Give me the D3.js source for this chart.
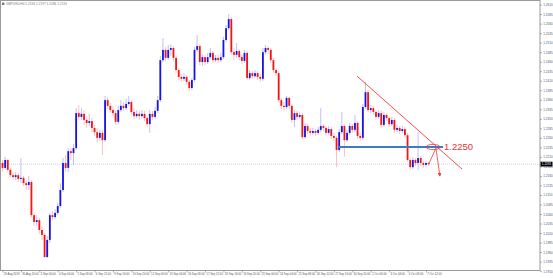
<!DOCTYPE html>
<html>
<head>
<meta charset="utf-8">
<script src="https://cdn.jsdelivr.net/npm/d3@7"></script>
<style>
  html, body { margin: 0; padding: 0; background: #fff; }
  svg { display: block; font-family: "Liberation Sans", Arial, sans-serif; }
</style>
</head>
<body>
<svg width="553" height="278"></svg>
<script>
// GBPUSD H4 candles (open = previous close)
const firstOpen = 1.2194;
const closes = [
  1.2181,1.2202,1.2176,1.2162,1.2157,1.2162,1.2152,1.2155,1.2141,1.2136,
  1.2144,1.2057,1.2039,1.2044,1.2018,1.2005,1.1947,1.1992,1.2057,1.2052,
  1.2063,1.2081,1.2123,1.2194,1.2181,1.2225,1.2220,1.2233,1.2325,1.2315,
  1.2323,1.2307,1.2299,1.2304,1.2286,1.2275,1.2260,1.2273,1.2254,1.2359,
  1.2344,1.2333,1.2325,1.2302,1.2333,1.2344,1.2338,1.2349,1.2354,1.2328,
  1.2317,1.2323,1.2317,1.2323,1.2312,1.2296,1.2323,1.2315,1.2331,1.2359,
  1.2464,1.2491,1.2470,1.2491,1.2496,1.2470,1.2438,1.2420,1.2415,1.2420,
  1.2407,1.2391,1.2412,1.2491,1.2501,1.2459,1.2472,1.2459,1.2472,1.2483,
  1.2464,1.2470,1.2464,1.2472,1.2517,1.2548,1.2572,1.2485,1.2478,1.2488,
  1.2472,1.2462,1.2483,1.2417,1.2430,1.2422,1.2430,1.2420,1.2415,1.2485,
  1.2496,1.2491,1.2464,1.2438,1.2430,1.2359,1.2344,1.2341,1.2365,1.2344,
  1.2307,1.2325,1.2315,1.2320,1.2262,1.2291,1.2278,1.2273,1.2278,1.2273,
  1.2281,1.2291,1.2286,1.2273,1.2283,1.2265,1.2260,1.2228,1.2275,1.2291,
  1.2254,1.2273,1.2291,1.2281,1.2299,1.2265,1.2260,1.2341,1.2380,1.2333,
  1.2338,1.2328,1.2315,1.2325,1.2294,1.2320,1.2312,1.2296,1.2307,1.2281,
  1.2286,1.2278,1.2283,1.2267,1.2202,1.2183,1.2202,1.2194,1.2207,1.2194,
  1.2189,1.2194,1.2191
];
const highs = [
  1.2202,1.2210,1.2204,1.2181,1.2170,1.2170,1.2168,1.2207,1.2160,1.2149,
  1.2160,1.2149,1.2063,1.2057,1.2050,1.2029,1.2010,1.2002,1.2063,1.2068,
  1.2073,1.2089,1.2141,1.2207,1.2215,1.2233,1.2233,1.2244,1.2338,1.2346,
  1.2338,1.2333,1.2317,1.2323,1.2312,1.2294,1.2286,1.2281,1.2281,1.2370,
  1.2367,1.2352,1.2344,1.2333,1.2344,1.2359,1.2354,1.2362,1.2370,1.2359,
  1.2338,1.2333,1.2331,1.2333,1.2331,1.2317,1.2333,1.2331,1.2341,1.2370,
  1.2475,1.2522,1.2499,1.2504,1.2506,1.2501,1.2475,1.2443,1.2428,1.2430,
  1.2425,1.2412,1.2417,1.2499,1.2530,1.2506,1.2480,1.2478,1.2483,1.2496,
  1.2488,1.2478,1.2478,1.2483,1.2525,1.2556,1.2585,1.2577,1.2496,1.2509,
  1.2493,1.2480,1.2491,1.2488,1.2438,1.2436,1.2438,1.2436,1.2428,1.2496,
  1.2504,1.2501,1.2496,1.2470,1.2443,1.2436,1.2365,1.2354,1.2370,1.2367,
  1.2349,1.2333,1.2331,1.2328,1.2325,1.2299,1.2296,1.2286,1.2286,1.2283,
  1.2288,1.2338,1.2296,1.2291,1.2291,1.2288,1.2273,1.2265,1.2283,1.2328,
  1.2296,1.2281,1.2299,1.2296,1.2320,1.2304,1.2273,1.2349,1.2407,1.2386,
  1.2346,1.2344,1.2333,1.2333,1.2331,1.2328,1.2325,1.2317,1.2315,1.2312,
  1.2294,1.2291,1.2291,1.2288,1.2273,1.2207,1.2210,1.2207,1.2275,1.2212,
  1.2199,1.2199,1.2197
];
const lows = [
  1.2170,1.2176,1.2170,1.2155,1.2149,1.2149,1.2144,1.2141,1.2134,1.2123,
  1.2123,1.2052,1.2029,1.2029,1.2008,1.1992,1.1945,1.1945,1.1984,1.2044,
  1.2047,1.2057,1.2076,1.2118,1.2170,1.2170,1.2202,1.2189,1.2228,1.2307,
  1.2307,1.2294,1.2286,1.2291,1.2275,1.2265,1.2249,1.2252,1.2215,1.2249,
  1.2336,1.2325,1.2317,1.2294,1.2296,1.2328,1.2331,1.2333,1.2344,1.2320,
  1.2310,1.2312,1.2307,1.2312,1.2304,1.2288,1.2273,1.2307,1.2310,1.2325,
  1.2354,1.2459,1.2462,1.2464,1.2475,1.2462,1.2430,1.2412,1.2407,1.2409,
  1.2399,1.2383,1.2386,1.2407,1.2485,1.2451,1.2449,1.2451,1.2454,1.2467,
  1.2457,1.2459,1.2457,1.2459,1.2467,1.2512,1.2543,1.2478,1.2464,1.2470,
  1.2464,1.2454,1.2457,1.2412,1.2412,1.2415,1.2417,1.2412,1.2407,1.2409,
  1.2478,1.2480,1.2457,1.2430,1.2422,1.2352,1.2336,1.2331,1.2336,1.2336,
  1.2299,1.2288,1.2307,1.2310,1.2257,1.2257,1.2270,1.2265,1.2267,1.2265,
  1.2267,1.2275,1.2278,1.2265,1.2267,1.2257,1.2252,1.2183,1.2223,1.2270,
  1.2210,1.2249,1.2267,1.2273,1.2275,1.2257,1.2252,1.2254,1.2336,1.2328,
  1.2325,1.2320,1.2307,1.2310,1.2286,1.2288,1.2304,1.2288,1.2291,1.2273,
  1.2275,1.2270,1.2273,1.2260,1.2197,1.2176,1.2178,1.2186,1.2176,1.2186,
  1.2181,1.2183,1.2186
];

// price scale labels (right side)
const priceTicks = [
  1.2610,1.2585,1.2560,1.2535,1.2510,1.2485,1.2460,1.2435,1.2410,1.2385,
  1.2360,1.2335,1.2310,1.2285,1.2260,1.2235,1.2210,1.2185,1.2160,1.2135,
  1.2110,1.2085,1.2060,1.2035,1.2010,1.1985,1.1960,1.1935,1.1910
];
// time scale labels, one every 7 bars
const timeLabels = [
  "29 Aug 2019","30 Aug 20:00","3 Sep 00:00","4 Sep 04:00","5 Sep 08:00","6 Sep 12:00",
  "9 Sep 16:00","10 Sep 20:00","12 Sep 00:00","13 Sep 04:00","16 Sep 08:00","17 Sep 12:00",
  "18 Sep 16:00","19 Sep 20:00","23 Sep 00:00","24 Sep 04:00","25 Sep 08:00","26 Sep 12:00",
  "27 Sep 16:00","30 Sep 20:00","2 Oct 00:00","3 Oct 04:00","4 Oct 08:00","7 Oct 12:00"
];
const barsPerLabel = 7;
const titleText = "GBPUSD,H4  1.2194 1.2197 1.2186 1.2191";

// annotations (bar index, price)
const trendLine = [[134.8, 1.2422], [174.7, 1.2178]];
const levelLine = [[127.6, 1.2236], [167.5, 1.2236]];
const levelText = "1.2250";
const arrowPath = [[162, 1.2191], [164.8, 1.2233], [166.3, 1.2160]];

const svg = d3.select("svg");
const plot = { left: 1, top: 1, right: 540, bottom: 270.5 };
const n = closes.length;

const x = d3.scaleLinear().domain([0, n - 1]).range([2.5, 428.6]);
const y = d3.scaleLinear().domain([1.19077, 1.2622]).range([272, 0]);

const blue = "#1414e6", red = "#f51414";

const candles = closes.map((c, i) => {
  const o = i ? closes[i - 1] : firstOpen;
  return { i, o, c, h: Math.max(highs[i], o, c), l: Math.min(lows[i], o, c) };
});

// frame
svg.append("rect")
  .attr("x", plot.left - 0.5).attr("y", plot.top - 0.5)
  .attr("width", plot.right - plot.left + 0.5)
  .attr("height", plot.bottom - plot.top + 0.5)
  .attr("fill", "#fff").attr("stroke", "#9a9a9a").attr("stroke-width", 1);

// bid line
const last = closes[n - 1];
svg.append("line")
  .attr("x1", plot.left).attr("x2", plot.right)
  .attr("y1", y(last)).attr("y2", y(last))
  .attr("stroke", "#a9c0cc").attr("stroke-width", 0.7)
  .attr("stroke-dasharray", "1,1");

const cg = svg.append("g");
// wicks
cg.selectAll(".wick").data(candles).enter().append("line")
  .attr("class", "wick")
  .attr("x1", d => x(d.i)).attr("x2", d => x(d.i))
  .attr("y1", d => y(d.h)).attr("y2", d => y(d.l))
  .attr("stroke", d => d.c >= d.o ? blue : red)
  .attr("stroke-width", 0.6).attr("stroke-opacity", 0.45);
// bodies
cg.selectAll(".body").data(candles).enter().append("rect")
  .attr("class", "body")
  .attr("x", d => x(d.i) - 0.9).attr("width", 1.8)
  .attr("y", d => y(Math.max(d.o, d.c)))
  .attr("height", d => Math.max(0.7, Math.abs(y(d.o) - y(d.c))))
  .attr("fill", d => d.c >= d.o ? blue : red);

// annotations
const line = d3.line().x(d => x(d[0])).y(d => y(d[1]));
svg.append("path").attr("d", line(trendLine))
  .attr("fill", "none").attr("stroke", "#f03a3a").attr("stroke-width", 0.9);
svg.append("path").attr("d", line(levelLine))
  .attr("fill", "none").attr("stroke", "#3b7cc2").attr("stroke-width", 2.2);

svg.append("defs").append("marker")
  .attr("id", "arr").attr("viewBox", "0 0 10 10")
  .attr("refX", 8).attr("refY", 5)
  .attr("markerWidth", 5).attr("markerHeight", 5)
  .attr("orient", "auto")
  .append("path").attr("d", "M0,0L10,5L0,10z").attr("fill", "#f03a3a");

svg.append("path").attr("d", line(arrowPath))
  .attr("fill", "none").attr("stroke", "#f03a3a").attr("stroke-width", 0.8)
  .attr("marker-end", "url(#arr)");

svg.append("ellipse")
  .attr("cx", x(163.7)).attr("cy", y(levelLine[0][1]))
  .attr("rx", 7).attr("ry", 2.6)
  .attr("fill", "none").attr("stroke", "#f03a3a").attr("stroke-width", 0.8);

svg.append("text")
  .attr("x", x(levelLine[1][0]) + 1).attr("y", y(levelLine[0][1]) + 3.3)
  .attr("font-size", 9.5).attr("fill", "#ea3232")
  .text(levelText);

// price axis
const yAxis = d3.axisRight(y).tickValues(priceTicks)
  .tickSize(2).tickPadding(1.2).tickFormat(d3.format(".4f"));
const ya = svg.append("g").attr("transform", `translate(${plot.right},0)`).call(yAxis);
ya.select(".domain").remove();
ya.attr("font-size", 3.1).attr("font-family", null);
ya.selectAll("line").attr("stroke", "#666").attr("stroke-width", 0.5);
ya.selectAll("text").attr("fill", "#555");

// current price tag
const tag = svg.append("g").attr("transform", `translate(${plot.right},${y(last)})`);
tag.append("rect").attr("x", 0.5).attr("y", -2.4).attr("width", 12).attr("height", 4.8).attr("fill", "#000");
tag.append("text").attr("x", 1.8).attr("y", 1.1).attr("font-size", 3.1).attr("fill", "#fff")
  .text(d3.format(".4f")(last));

// time axis
const xAxis = d3.axisBottom(x)
  .tickValues(timeLabels.map((_, k) => k * barsPerLabel))
  .tickSize(2).tickPadding(0.8)
  .tickFormat((d, k) => timeLabels[k]);
const xa = svg.append("g").attr("transform", `translate(0,${plot.bottom})`).call(xAxis);
xa.select(".domain").remove();
xa.attr("font-size", 2.8).attr("font-family", null);
xa.selectAll("line").attr("stroke", "#666").attr("stroke-width", 0.5);
xa.selectAll("text").attr("text-anchor", "start").attr("dx", 0.8).attr("fill", "#555");

// title
svg.append("rect").attr("x", 2).attr("y", 2.6).attr("width", 2.4).attr("height", 2.4).attr("fill", "#777");
svg.append("text").attr("x", 6).attr("y", 5).attr("font-size", 3.2).attr("fill", "#777").text(titleText);
</script>
</body>
</html>
